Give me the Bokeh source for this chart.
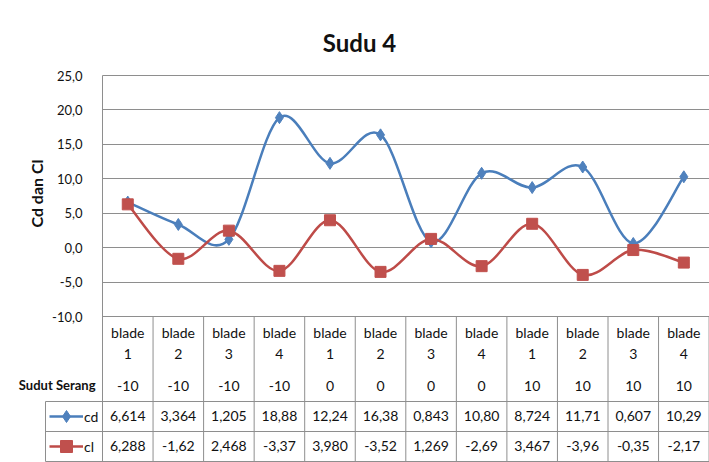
import math
from bokeh.plotting import figure
from bokeh.models import Range1d, FixedTicker, Label, Legend, LegendItem, Grid
from bokeh.core.properties import value
from bokeh.embed import file_html
from bokeh.resources import INLINE

# ---- data ----
blade_names = ["blade 1", "blade 2", "blade 3", "blade 4",
               "blade 1", "blade 2", "blade 3", "blade 4",
               "blade 1", "blade 2", "blade 3", "blade 4"]
sudut_serang = [-10, -10, -10, -10, 0, 0, 0, 0, 10, 10, 10, 10]
cd = [6.614, 3.364, 1.205, 18.88, 12.24, 16.38, 0.843, 10.80, 8.724, 11.71, 0.607, 10.29]
cl = [6.288, -1.62, 2.468, -3.37, 3.980, -3.52, 1.269, -2.69, 3.467, -3.96, -0.35, -2.17]
y_ticks = [-10, -5, 0, 5, 10, 15, 20, 25]
chart_title = "Sudu 4"
y_title = "Cd dan Cl"
row_title = "Sudut Serang"
series_names = ["cd", "cl"]

# ---- layout (pixel positions measured on the reference picture) ----
FONT = "Lato"
W, H = 709, 462
PAGE_MARGIN = 0
FRAME_LEFT_REF = 102          # where the value axis sits
PX_PER_COL = 50.55
Y_TOP_REF, Y_BOT_REF = 75, 316      # pixel rows of y=25 and y=-10
TABLE_BOTTOM_REF = 461
GRID = "#8e8e8e"
TXT = "#111111"
BLUE_LINE, BLUE_MK = "#4A7EBB", "#4F81BD"
RED_LINE, RED_MK = "#BE4B48", "#C0504D"

ymin_t, ymax_t = y_ticks[0], y_ticks[-1]
units_per_px = (ymax_t - ymin_t) / (Y_BOT_REF - Y_TOP_REF)


def ry(ref_y):
    return ymax_t - (ref_y - Y_TOP_REF) * units_per_px


def rx(ref_x):
    return (ref_x - FRAME_LEFT_REF) / PX_PER_COL


n = len(cd)
x0_range = rx(PAGE_MARGIN)
y1_range = ry(PAGE_MARGIN)
p = figure(width=W, height=H, output_backend="svg", toolbar_location=None,
           x_range=Range1d(x0_range, x0_range + W / PX_PER_COL),
           y_range=Range1d(y1_range - H * units_per_px, y1_range),
           min_border_left=0, min_border_right=0, min_border_top=0, min_border_bottom=0,
           x_axis_location=None)
p.outline_line_color = None
p.background_fill_color = "white"
p.border_fill_color = "white"
p.xgrid.visible = False
p.ygrid.ticker = FixedTicker(ticks=y_ticks)
p.ygrid.grid_line_color = GRID
p.ygrid.grid_line_width = 1
if "cross_bounds" in Grid.properties():
    p.ygrid.cross_bounds = (0, n)

yaxis = p.yaxis[0]
yaxis.fixed_location = 0
yaxis.bounds = (ry(TABLE_BOTTOM_REF), ymax_t)
yaxis.ticker = FixedTicker(ticks=y_ticks)
yaxis.major_label_overrides = {t: f"{t:.1f}".replace(".", ",") for t in y_ticks}
yaxis.major_tick_line_color = None
yaxis.minor_tick_line_color = None
yaxis.axis_line_color = GRID
yaxis.major_label_standoff = 14
yaxis.major_label_text_font = FONT
yaxis.major_label_text_font_size = "13px"
yaxis.major_label_text_color = TXT

# ---- data table under the plot ----
xc = [i + 0.5 for i in range(n)]
row_lines_y = [ry(401), ry(431), ry(TABLE_BOTTOM_REF)]
left_key = rx(45)
p.segment(x0=[left_key] * 3, x1=[n] * 3, y0=row_lines_y, y1=row_lines_y,
          line_color=GRID, line_width=1)
p.segment(x0=list(range(1, n + 1)), x1=list(range(1, n + 1)), y0=[ymin_t] * n,
          y1=[ry(TABLE_BOTTOM_REF)] * n, line_color=GRID, line_width=1)
p.segment(x0=[left_key], x1=[left_key], y0=[ry(401)], y1=[ry(TABLE_BOTTOM_REF)],
          line_color=GRID, line_width=1)

common = dict(text_font=value(FONT), text_font_size="14px", text_color=TXT,
              text_align="center", text_baseline="middle")
p.text(x=xc, y=[ry(332)] * n, text=[b.split()[0] for b in blade_names], **common)
p.text(x=xc, y=[ry(353)] * n, text=[b.split()[1] for b in blade_names], **common)
p.text(x=xc, y=[ry(385)] * n, text=[str(a) for a in sudut_serang], **common)


def fmt(v):
    ip = str(int(abs(v)))
    sign = "-" if v < 0 else ""
    d = max(0, 5 - len(sign + ip) - 1)
    return f"{v:.{d}f}".replace(".", ",")


p.text(x=xc, y=[ry(415)] * n, text=[fmt(v) for v in cd], **common)
p.text(x=xc, y=[ry(445)] * n, text=[fmt(v) for v in cl], **common)

p.add_layout(Label(x=rx(95), y=ry(384), text=row_title, text_font=FONT, text_font_size="13px",
                   text_font_style="bold", text_color=TXT, text_align="right", text_baseline="middle"))
p.add_layout(Label(x=rx(359), y=ry(42), text=chart_title, text_font=FONT, text_font_size="24px",
                   text_font_style="bold", text_color=TXT, text_align="center",
                   text_baseline="alphabetic"))
p.add_layout(Label(x=rx(36), y=ry(193), text=y_title, text_font=FONT, text_font_size="16px",
                   text_font_style="bold", text_color=TXT, text_align="center", text_baseline="middle",
                   angle=math.pi / 2))


# ---- smoothed series (Bezier segments through the data points) ----
def bezier_parts(vals):
    x0, y0, x1, y1, cx0, cy0, cx1, cy1 = ([] for _ in range(8))
    for i in range(len(vals) - 1):
        im = i - 1 if i > 0 else i
        ip = i + 2 if i + 2 < len(vals) else i + 1
        x0.append(xc[i]); y0.append(vals[i]); x1.append(xc[i + 1]); y1.append(vals[i + 1])
        cx0.append(xc[i] + (xc[i + 1] - xc[im]) / 6); cy0.append(vals[i] + (vals[i + 1] - vals[im]) / 6)
        cx1.append(xc[i + 1] - (xc[ip] - xc[i]) / 6); cy1.append(vals[i + 1] - (vals[ip] - vals[i]) / 6)
    return dict(x0=x0, y0=y0, x1=x1, y1=y1, cx0=cx0, cy0=cy0, cx1=cx1, cy1=cy1)


r_cd_line = p.bezier(**bezier_parts(cd), line_color=BLUE_LINE, line_width=2.5)
r_cd_mk = p.scatter(xc, cd, marker="diamond", size=12, fill_color=BLUE_MK, line_color=BLUE_MK)
r_cl_line = p.bezier(**bezier_parts(cl), line_color=RED_LINE, line_width=2.5)
r_cl_mk = p.scatter(xc, cl, marker="square", size=11, fill_color=RED_MK, line_color=RED_MK)

legend = Legend(items=[LegendItem(label=series_names[0], renderers=[r_cd_line, r_cd_mk]),
                       LegendItem(label=series_names[1], renderers=[r_cl_line, r_cl_mk])],
                location=(49 - PAGE_MARGIN, H + PAGE_MARGIN - TABLE_BOTTOM_REF),
                orientation="vertical", padding=0, margin=0, spacing=0,
                glyph_width=34, glyph_height=30, label_height=30, label_standoff=1,
                label_text_font=FONT, label_text_font_size="14px", label_text_color=TXT,
                border_line_color=None, background_fill_alpha=0)
p.add_layout(legend, "center")

open("out.html", "w").write(file_html(p, INLINE))
